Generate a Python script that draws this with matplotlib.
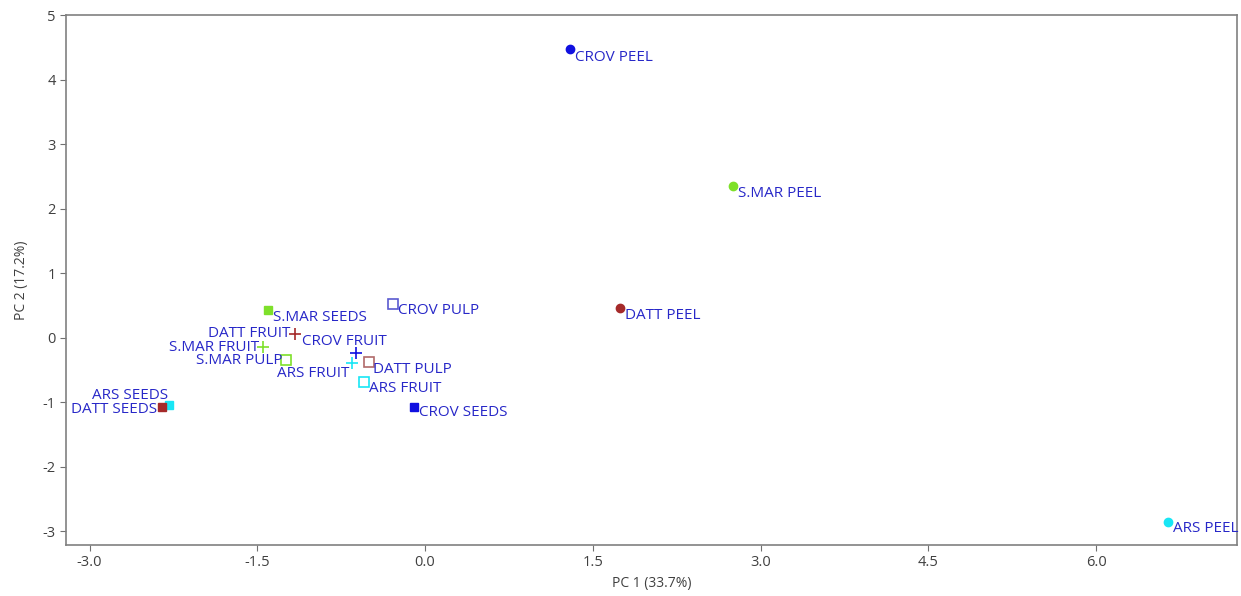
import numpy as np
import matplotlib.pyplot as plt

plt.rcParams['font.family'] = ['Open Sans', 'DejaVu Sans']
plt.rcParams['axes.unicode_minus'] = False

# sample names, scores on PC1 / PC2
nomes = ["CROV PEEL", "S.MAR PEEL", "DATT PEEL", "ARS PEEL",
         "S.MAR SEEDS", "CROV PULP", "DATT FRUIT", "S.MAR FRUIT", "S.MAR PULP",
         "CROV FRUIT", "ARS FRUIT", "ARS FRUIT", "DATT PULP", "CROV SEEDS",
         "ARS SEEDS", "DATT SEEDS"]
pc1 = [1.30, 2.75, 1.74, 6.64,
       -1.40, -0.29, -1.16, -1.45, -1.24,
       -0.62, -0.65, -0.55, -0.50, -0.10,
       -2.29, -2.35]
pc2 = [4.47, 2.35, 0.46, -2.85,
       0.43, 0.53, 0.06, -0.14, -0.34,
       -0.23, -0.39, -0.68, -0.37, -1.07,
       -1.04, -1.08]

# style per point: marker, colour, filled
azul = '#1010e0'
verde = '#7ee02a'
vermelho = '#a52a2a'
ciano = '#18e6f5'
estilos = [('o', azul, True), ('o', verde, True), ('o', vermelho, True), ('o', ciano, True),
           ('s', verde, True), ('s', '#5a5ad0', False), ('+', vermelho, True), ('+', verde, True),
           ('s', verde, False), ('+', azul, True), ('+', ciano, True), ('s', ciano, False),
           ('s', '#b06a6a', False), ('s', azul, True), ('s', ciano, True), ('s', vermelho, True)]

# label offsets in pixels (dx, dy) and alignment
rotulos = [(5, -8, 'left'), (5, -7, 'left'), (5, -7, 'left'), (5, -7, 'left'),
           (5, -7, 'left'), (5, -7, 'left'), (-5, 0, 'right'), (-4, -1, 'right'), (-4, -1, 'right'),
           (-54, 11, 'left'), (-75, -11, 'left'), (5, -7, 'left'), (4, -8, 'left'), (5, -6, 'left'),
           (-1, 9, 'right'), (-5, -2, 'right')]

fig = plt.figure(figsize=(12.41, 5.96), dpi=100)
ax = fig.add_axes([0.0532, 0.0856, 0.9436, 0.8892])

for i in range(len(nomes)):
    m, c, cheio = estilos[i]
    if m == '+':
        ax.plot(pc1[i], pc2[i], marker='+', color=c, markersize=8, mew=1.2, linestyle='none')
    elif cheio:
        ax.plot(pc1[i], pc2[i], marker=m, color=c, markersize=6, linestyle='none')
    else:
        ax.plot(pc1[i], pc2[i], marker=m, mfc='none', mec=c, markersize=6.5, mew=1.2, linestyle='none')
    dx, dy, ha = rotulos[i]
    ax.annotate(nomes[i], (pc1[i], pc2[i]), xytext=(dx * 0.72, dy * 0.72), textcoords='offset points',
                ha=ha, va='center', color='#2828c8', fontsize=11)

ax.set_xlim(-3.21, 7.26)
ax.set_ylim(-3.21, 5.0)
ax.set_xticks([-3.0, -1.5, 0.0, 1.5, 3.0, 4.5, 6.0])
ax.set_xticklabels(['%.1f' % v for v in [-3.0, -1.5, 0.0, 1.5, 3.0, 4.5, 6.0]])
ax.set_yticks(range(-3, 6))
ax.tick_params(direction='out', length=4, color='#707070', labelcolor='#404040', labelsize=10.5)
for s in ax.spines.values():
    s.set_color('#808080')
    s.set_linewidth(1.2)

ax.set_xlabel('PC 1 (33.7%)', color='#404040', fontsize=10)
ax.set_ylabel('PC 2 (17.2%)', color='#404040', fontsize=10, labelpad=10)

plt.savefig('out.png', dpi=100)
